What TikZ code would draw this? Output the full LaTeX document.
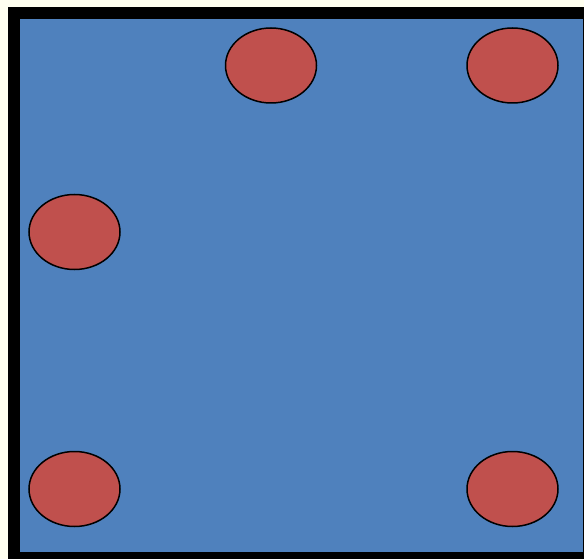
\documentclass[tikz,border=0pt]{standalone}
\usepackage{tikz}
\usetikzlibrary{shapes.geometric}
\definecolor{cream}{HTML}{FFFFF0}
\definecolor{bluefill}{HTML}{4F81BD}
\definecolor{redfill}{HTML}{C0504D}
\begin{document}
\begin{tikzpicture}[x=1pt,y=-1pt,
  dot/.style={ellipse,draw=black,line width=1.5pt,fill=redfill,minimum width=91pt,minimum height=75pt,inner sep=0pt}]
\useasboundingbox (0,0) rectangle (584,559);
\clip (0,0) rectangle (584,559);
\fill[cream] (0,0) rectangle (584,559);
\fill[black] (8,7) rectangle (584,559);
\fill[bluefill] (20,19) rectangle (583,552);
\node[dot] (a) at (271,65.5) {};
\node[dot] (b) at (512.5,65.5) {};
\node[dot] (c) at (74.5,232) {};
\node[dot] (d) at (74.5,489) {};
\node[dot] (e) at (512.5,489) {};
\end{tikzpicture}
\end{document}
